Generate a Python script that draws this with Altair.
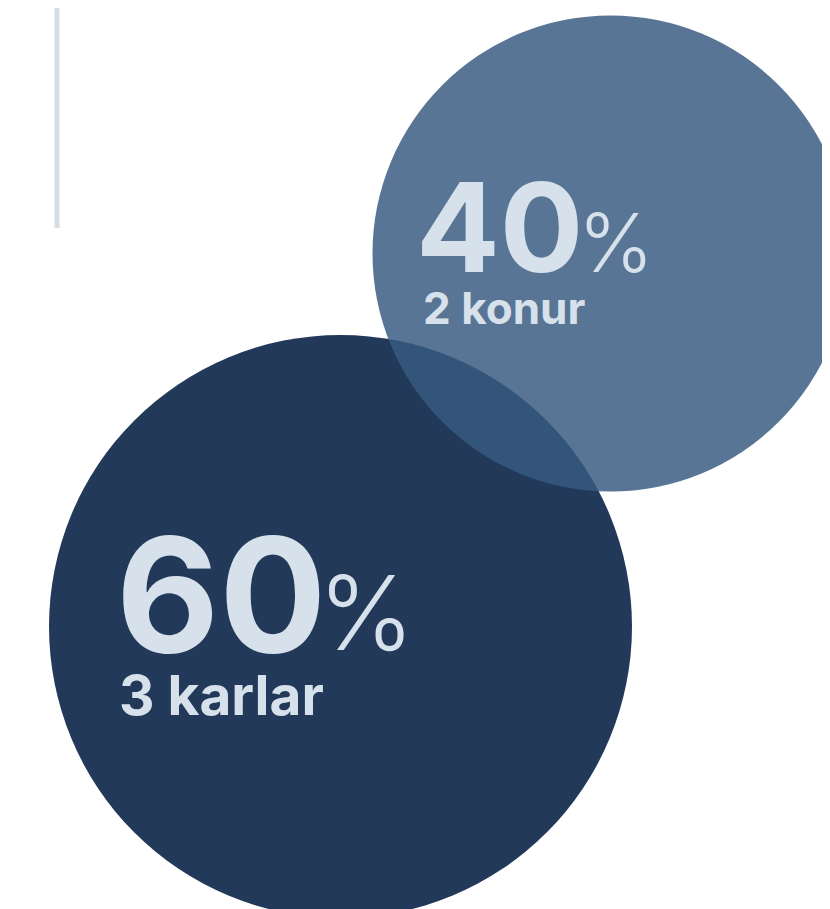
import altair as alt
import pandas as pd

# ---- data ----
labels = ["60", "40"]
values = [60, 40]
units = ["%", "%"]
subtitles = ["3 karlar", "2 konur"]

# ---- layout (chart pixel space) ----
W, H = 814, 901
centers_x = [332.5, 602.5]
centers_y = [618.5, 245.5]
R_MAX = 291.5
num_x = [108, 408]
num_y = [644, 264]
num_size = [159, 124]
pct_x = [310, 570]
pct_y = [642, 264]
pct_size = [103, 81]
sub_x = [111, 415]
sub_y = [707, 316]
sub_size = [55, 44]
fills = ["#22395a", "#385a81"]
opacs = [1.0, 0.84]
TEXT = "#d7e1eb"
FONT = "Inter"

df = pd.DataFrame({
    "label": labels, "value": values, "unit": units, "sub": subtitles,
    "cx": centers_x, "cy": centers_y,
    "nx": num_x, "ny": num_y, "ns": num_size,
    "px": pct_x, "py": pct_y, "ps": pct_size,
    "sx": sub_x, "sy": sub_y, "ss": sub_size,
})

xs = alt.Scale(domain=[0, W], range=[0, W], nice=False, zero=False)
ys = alt.Scale(domain=[H, 0], nice=False, zero=False)
noax = None

base = alt.Chart(df)

# Vega symbol size = (diameter)^2 for circles
circles = base.mark_circle(stroke=None).encode(
    x=alt.X("cx:Q", scale=xs, axis=noax),
    y=alt.Y("cy:Q", scale=ys, axis=noax),
    size=alt.Size("value:Q", scale=alt.Scale(domain=[0, 60], range=[0, (2 * R_MAX) ** 2], zero=True), legend=None),
    color=alt.Color("label:N", scale=alt.Scale(domain=labels, range=fills), legend=None),
    opacity=alt.Opacity("label:N", scale=alt.Scale(domain=labels, range=opacs), legend=None),
    order=alt.Order("value:Q", sort="descending"),
)

nums = base.mark_text(font=FONT, fontWeight="bold", align="left", baseline="alphabetic", color=TEXT).encode(
    x=alt.X("nx:Q", scale=xs, axis=noax),
    y=alt.Y("ny:Q", scale=ys, axis=noax),
    size=alt.Size("ns:Q", scale=None, legend=None),
    text="label:N",
)

pcts = base.mark_text(font=FONT, fontWeight=300, align="left", baseline="alphabetic", color=TEXT).encode(
    x=alt.X("px:Q", scale=xs, axis=noax),
    y=alt.Y("py:Q", scale=ys, axis=noax),
    size=alt.Size("ps:Q", scale=None, legend=None),
    text="unit:N",
)

subs = base.mark_text(font=FONT, fontWeight="bold", align="left", baseline="alphabetic", color=TEXT).encode(
    x=alt.X("sx:Q", scale=xs, axis=noax),
    y=alt.Y("sy:Q", scale=ys, axis=noax),
    size=alt.Size("ss:Q", scale=None, legend=None),
    text="sub:N",
)

line = alt.Chart(pd.DataFrame({"k": [0]})).mark_rule(color="#d5dde5", strokeWidth=5).encode(
    x=alt.value(49), y=alt.value(0), y2=alt.value(220)
)

chart = alt.layer(line, circles, nums, pcts, subs).resolve_scale(size="independent").properties(
    width=W, height=H, padding=0, autosize=alt.AutoSizeParams(type="none"), background="white"
).configure_view(stroke=None)

chart.save("out.html", embed_options={"renderer": "svg", "actions": False})
